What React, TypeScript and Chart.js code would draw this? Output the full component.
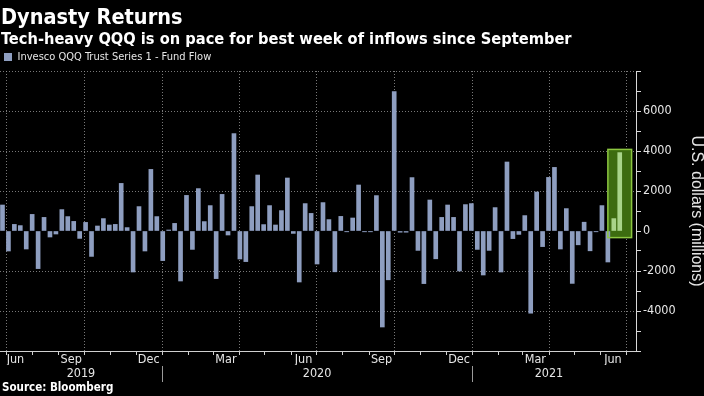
import React, { useEffect, useRef } from 'react';
import { Chart, registerables } from 'chart.js';

Chart.register(...registerables);

// ---------------- data ----------------
const titleText = 'Dynasty Returns';
const subtitleText = 'Tech-heavy QQQ is on pace for best week of inflows since September';
const sourceText = 'Source: Bloomberg';
const seriesLabel = 'Invesco QQQ Trust Series 1 - Fund Flow';
const yAxisTitle = 'U.S. dollars (millions)';

// first weekly observation
const firstWeekDate = '2019-06-27';

// weekly fund flow, US$ millions
const weeklyFlows = [
  1300, -1000, 330, 270, -900, 830, -1880, 680, -300, -150,
  1070, 720, 480, -370, 430, -1270, 250, 620, 300, 330,
  2380, 170, -2050, 1220, -1000, 3080, 720, -1480, 50, 380,
  -2500, 1780, -920, 2120, 470, 1270, -2380, 1830, -200, 4870,
  -1400, -1530, 1220, 2800, 320, 1270, 300, 1020, 2650, -120,
  -2550, 1370, 880, -1650, 1420, 570, -2040, 730, -40, 650,
  2300, -40, -40, 1770, -4800, -2440, 6970, -60, -60, 2670,
  -970, -2630, 1550, -1390, 680, 1300, 680, -2000, 1320, 1370,
  -920, -2200, -970, 1170, -2050, 3450, -380, -170, 770, -4110,
  1950, -780, 2680, 3180, -900, 1120, -2620, -690, 440, -990,
  -40, 1270, -1550, 620, 3920,
];

// the last weeks are highlighted
const highlightCount = 2;
const highlightTopValue = 4080;
const highlightBottomValue = -330;

// x axis labels
const labeledMonths = ['2019-06', '2019-09', '2019-12', '2020-03', '2020-06', '2020-09', '2020-12', '2021-03', '2021-06'];
const monthNames = ['Jan', 'Feb', 'Mar', 'Apr', 'May', 'Jun', 'Jul', 'Aug', 'Sep', 'Oct', 'Nov', 'Dec'];
const yearLabels = ['2019', '2020', '2021'];
const yearStartDates = ['2020-01-01', '2021-01-01'];
const quarterGridDates = ['2019-07-01', '2019-10-01', '2020-01-01', '2020-04-01', '2020-07-01', '2020-10-01', '2021-01-01', '2021-04-01', '2021-07-01'];

// y axis
const yMin = -6000;
const yMax = 8000;
const yStep = 1000;
const yLabelStep = 2000;
const yLabelMin = -4000;
const yLabelMax = 6000;

// ---------------- helpers ----------------
const DAY = 86400000;
const t0 = Date.parse(firstWeekDate + 'T00:00:00Z');
const msToWeek = (ms: number) => (ms - t0) / (7 * DAY);
const dateToWeek = (d: string) => msToWeek(Date.parse(d + 'T00:00:00Z'));

const xMin = -0.42;
const xMax = 106.74;
const firstLabelInset = 2.6;

const monthCenters = labeledMonths.map((m) => {
  const [yy, mm] = m.split('-').map(Number);
  const a = msToWeek(Date.UTC(yy, mm - 1, 1));
  const b = msToWeek(Date.UTC(yy, mm, 1));
  return Math.max((a + b) / 2, xMin + firstLabelInset);
});
const monthLabelTexts = labeledMonths.map((m) => monthNames[Number(m.split('-')[1]) - 1]);

const monthStarts: number[] = [];
for (let yy = 2019; yy <= 2021; yy++) {
  for (let mm = 0; mm < 12; mm++) {
    const w = msToWeek(Date.UTC(yy, mm, 1));
    if (w >= xMin && w <= xMax) monthStarts.push(w);
  }
}

const yearBounds = [xMin, ...yearStartDates.map(dateToWeek), dateToWeek(quarterGridDates[quarterGridDates.length - 1])];
const yearCenters = yearLabels.map((_, i) => (yearBounds[i] + yearBounds[i + 1]) / 2);

const NARROW = "'DejaVu Sans Condensed', 'DejaVu Sans', sans-serif";
const BOLD = "'DejaVu Sans Condensed', 'DejaVu Sans', sans-serif";
const BAR_BLUE = '#8e9ec0';
const BAR_GREEN = '#a9d48a';
const TEXT = '#e6e6e6';

const decorPlugin = {
  id: 'decor',
  beforeDatasetsDraw(chart: any) {
    const { ctx, chartArea: a, scales } = chart;
    const x = scales.x;
    const y = scales.y;
    ctx.save();
    ctx.strokeStyle = 'rgba(150,150,150,0.8)';
    ctx.lineWidth = 1;
    ctx.setLineDash([1, 2]);
    y.ticks.forEach((t: any) => {
      if (t.value % yLabelStep !== 0 || t.value === 0 || t.value === yMin) return;
      const py = Math.round(y.getPixelForValue(t.value)) + 0.5;
      ctx.beginPath();
      ctx.moveTo(a.left, py);
      ctx.lineTo(a.right, py);
      ctx.stroke();
    });
    quarterGridDates.forEach((d) => {
      const px = Math.round(x.getPixelForValue(dateToWeek(d))) + 0.5;
      ctx.beginPath();
      ctx.moveTo(px, a.top);
      ctx.lineTo(px, a.bottom);
      ctx.stroke();
    });
    ctx.setLineDash([]);
    // highlight box
    const n = weeklyFlows.length;
    const left = x.getPixelForValue(n - 1 - highlightCount);
    const right = x.getPixelForValue(n - 1 + 2);
    const top = y.getPixelForValue(highlightTopValue);
    const bottom = y.getPixelForValue(highlightBottomValue);
    ctx.fillStyle = '#3d6c10';
    ctx.fillRect(left, top, right - left, bottom - top);
    ctx.restore();
  },
  afterDatasetsDraw(chart: any) {
    const { ctx, scales } = chart;
    const x = scales.x;
    const y = scales.y;
    const n = weeklyFlows.length;
    const left = x.getPixelForValue(n - 1 - highlightCount);
    const right = x.getPixelForValue(n - 1 + 2);
    const top = y.getPixelForValue(highlightTopValue);
    const bottom = y.getPixelForValue(highlightBottomValue);
    ctx.save();
    ctx.strokeStyle = '#8cc640';
    ctx.lineWidth = 1.5;
    ctx.strokeRect(left, top, right - left, bottom - top);
    ctx.restore();
  },
  afterDraw(chart: any) {
    const { ctx, chartArea: a, scales } = chart;
    const x = scales.x;
    ctx.save();
    ctx.strokeStyle = '#cfcfcf';
    ctx.lineWidth = 1;
    monthStarts.forEach((w) => {
      const px = Math.round(x.getPixelForValue(w)) + 0.5;
      ctx.beginPath();
      ctx.moveTo(px, a.bottom);
      ctx.lineTo(px, a.bottom + 4);
      ctx.stroke();
    });
    ctx.strokeStyle = '#9a9a9a';
    yearStartDates.forEach((d) => {
      const px = Math.round(x.getPixelForValue(dateToWeek(d))) + 0.5;
      ctx.beginPath();
      ctx.moveTo(px, a.bottom + 15);
      ctx.lineTo(px, a.bottom + 31);
      ctx.stroke();
    });
    ctx.restore();
  },
};

export default function App() {
  const canvasRef = useRef<HTMLCanvasElement | null>(null);

  useEffect(() => {
    if (!canvasRef.current) return;
    const n = weeklyFlows.length;
    const chart = new Chart(canvasRef.current, {
      type: 'bar',
      data: {
        datasets: [
          {
            label: seriesLabel,
            data: weeklyFlows.map((v, i) => ({ x: i, y: v })),
            backgroundColor: (c: any) =>
              c.dataIndex !== undefined && c.dataIndex >= n - highlightCount ? BAR_GREEN : BAR_BLUE,
            borderWidth: 0,
            barThickness: 4,
          },
        ],
      },
      options: {
        responsive: false,
        animation: false,
        devicePixelRatio: 1,
        layout: { padding: { top: 47.5, left: 0, right: 0, bottom: 0 }, autoPadding: false },
        plugins: {
          tooltip: { enabled: false },
          title: { display: false },
          legend: {
            display: true,
            position: 'top',
            align: 'start',
            maxHeight: 23.5,
            labels: {
              boxWidth: 8,
              boxHeight: 8,
              padding: 4,
              color: TEXT,
              font: { family: NARROW, size: 11 },
            },
          },
        },
        scales: {
          x: {
            type: 'linear',
            position: 'bottom',
            weight: 0,
            min: xMin,
            max: xMax,
            bounds: 'data',
            offset: false,
            grid: { display: false, drawTicks: false },
            border: { display: true, color: '#d0d0d0', width: 1 },
            afterBuildTicks: (s: any) => {
              s.ticks = monthCenters.map((v) => ({ value: v }));
            },
            afterFit: (s: any) => {
              s.height = 14;
            },
            ticks: {
              autoSkip: false,
              maxRotation: 0,
              minRotation: 0,
              padding: 1,
              color: TEXT,
              font: { family: NARROW, size: 12.5 },
              callback: (_v: any, i: number) => monthLabelTexts[i],
            },
          },
          x2: {
            type: 'linear',
            position: 'bottom',
            weight: 1,
            min: xMin,
            max: xMax,
            bounds: 'data',
            offset: false,
            grid: { display: false, drawTicks: false },
            border: { display: false },
            afterBuildTicks: (s: any) => {
              s.ticks = yearCenters.map((v) => ({ value: v }));
            },
            afterFit: (s: any) => {
              s.height = 31;
            },
            ticks: {
              autoSkip: false,
              maxRotation: 0,
              minRotation: 0,
              padding: 1,
              color: TEXT,
              font: { family: NARROW, size: 12.5 },
              callback: (_v: any, i: number) => yearLabels[i],
            },
          },
          y: {
            type: 'linear',
            position: 'right',
            min: yMin,
            max: yMax,
            grid: {
              display: true,
              drawOnChartArea: false,
              drawTicks: true,
              tickLength: 5,
              tickColor: '#d8d8d8',
              tickWidth: 1,
            },
            border: { display: true, color: '#d8d8d8', width: 1 },
            afterFit: (s: any) => {
              s.width = 68;
            },
            ticks: {
              stepSize: yStep,
              padding: 2,
              color: TEXT,
              font: { family: NARROW, size: 12.5 },
              callback: (v: any) => {
                const num = Number(v);
                return num % yLabelStep === 0 && num >= yLabelMin && num <= yLabelMax ? String(num) : '';
              },
            },
            title: {
              display: true,
              text: yAxisTitle,
              color: TEXT,
              padding: 0,
              font: { family: "'Liberation Sans', Arial, sans-serif", size: 16, lineHeight: 1 },
            },
          },
        },
      },
      plugins: [decorPlugin],
    } as any);
    return () => chart.destroy();
  }, []);

  return (
    <div
      style={{
        position: 'fixed',
        left: 0,
        top: 0,
        width: 704,
        height: 396,
        background: '#000',
        overflow: 'hidden',
      }}
    >
      <canvas ref={canvasRef} width={704} height={396} style={{ display: 'block', position: 'absolute', left: 0, top: 0 }} />
      <div
        style={{
          position: 'absolute',
          left: 1,
          top: 6,
          fontFamily: BOLD,
          fontStretch: 'condensed',
          fontWeight: 'bold',
          fontSize: 21.5,
          lineHeight: 1,
          color: '#fff',
          whiteSpace: 'nowrap',
        }}
      >
        {titleText}
      </div>
      <div
        style={{
          position: 'absolute',
          left: 1,
          top: 31,
          fontFamily: BOLD,
          fontStretch: 'condensed',
          fontWeight: 'bold',
          fontSize: 16.3,
          lineHeight: 1,
          color: '#fff',
          whiteSpace: 'nowrap',
        }}
      >
        {subtitleText}
      </div>
      <div
        style={{
          position: 'absolute',
          left: 2,
          top: 382,
          fontFamily: BOLD,
          fontStretch: 'condensed',
          fontWeight: 'bold',
          fontSize: 11.5,
          lineHeight: 1,
          color: '#fff',
          whiteSpace: 'nowrap',
        }}
      >
        {sourceText}
      </div>
    </div>
  );
}
